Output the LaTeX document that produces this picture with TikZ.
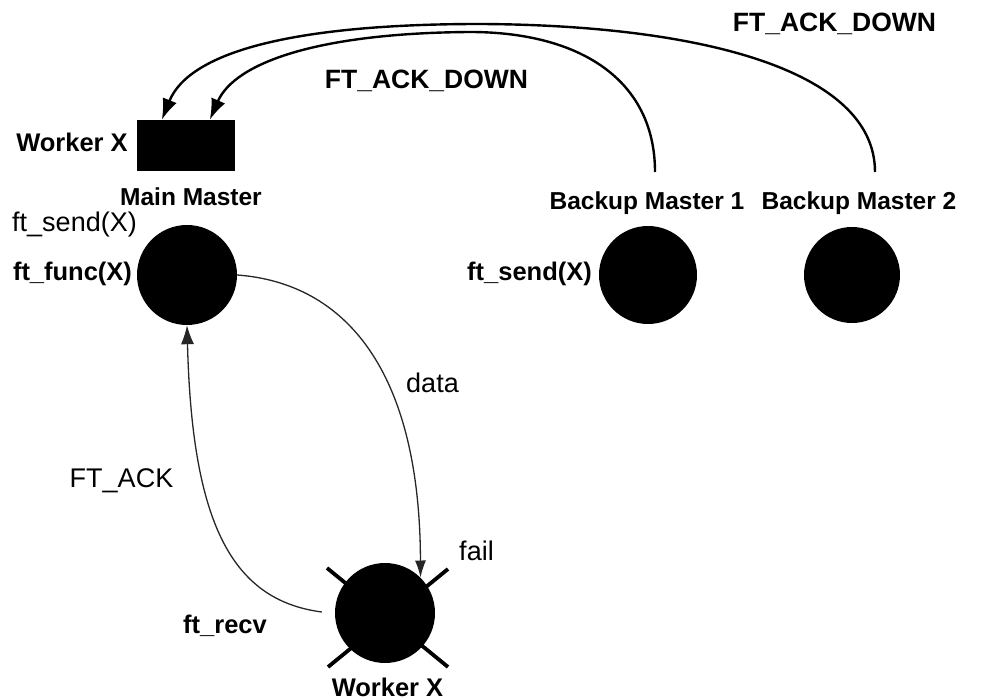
\documentclass[tikz,border=0pt]{standalone}
\usepackage{fontspec}
\setmainfont{Liberation Sans}
\usetikzlibrary{arrows.meta,calc}
\begin{document}
\begin{tikzpicture}[x=1pt,y=-1pt,
  blob/.style={circle,fill=black,draw=none,inner sep=0pt},
  lblb/.style={anchor=base,inner sep=0pt,font=\fontsize{25.5}{30}\selectfont\bfseries},
  lblm/.style={anchor=base,inner sep=0pt,font=\fontsize{24.5}{30}\selectfont\bfseries},
  lbld/.style={anchor=base,inner sep=0pt,font=\fontsize{26.5}{30}\selectfont\bfseries},
  lblr/.style={anchor=base,inner sep=0pt,font=\fontsize{27}{30}\selectfont},
  bigarrow/.style={line width=2.4pt,-{Latex[length=21pt,width=15pt]}},
  thinarrow/.style={line width=1.3pt,black!85}
]
\useasboundingbox (0,0) rectangle (983,700);

% nodes
\node[fill=black,minimum width=98pt,minimum height=51pt,inner sep=0pt] (box) at (186,145.5) {};
\coordinate (boxA) at ($(box.north west)+(25,0)$);
\coordinate (boxB) at ($(box.north west)+(73,0)$);
\node[blob,minimum size=100pt] (main) at (187,275) {};
\node[blob,minimum size=98pt] (bm1) at (648,275) {};
\node[blob,minimum size=96pt] (bm2) at (852,275) {};

% failed worker with cross
\draw[line width=3.8pt] (327,568) -- (448,667);
\draw[line width=3.8pt] (448,569) -- (328,667);
\node[blob,minimum size=100pt] (wx) at (385,613) {};

% labels
\node[lblb] (lwtop) at (72,152) {Worker X};
\node[lblm] (lmain) at (191,206) {Main Master};
\node[lblr] (lsend) at (74.5,232) {ft\_send(X)};
\node[lblb] (lfunc) at (72.5,281) {ft\_func(X)};
\node[lblm] (lbm1) at (647,210) {Backup Master 1};
\node[lblm] (lbm2) at (859,210) {Backup Master 2};
\node[lblb] (lsend2) at (529.5,281) {ft\_send(X)};
\node[lbld] (ldown1) at (426.5,89) {FT\_ACK\_DOWN};
\node[lbld] (ldown2) at (834.5,32) {FT\_ACK\_DOWN};
\node[lblr] (ldata) at (432.5,393) {data};
\node[lblr] (lack) at (121.5,488) {FT\_ACK};
\node[lblr] (lfail) at (476.5,560) {fail};
\node[lblb] (lrecv) at (225,633) {ft\_recv};
\node[lblb] (lwbot) at (387.5,696) {Worker X};

% top arrows
\coordinate (s2) at (875,172);
\coordinate (s1) at (655,172);
\draw[bigarrow] (s2) .. controls (875,70) and (700,25) .. (480,24)
  .. controls (300,24) and (190,50) .. (boxA);
\draw[bigarrow] (s1) .. controls (655,80) and (580,32) .. (470,32)
  .. controls (320,33) and (235,62) .. (boxB);

% lower arrows
\draw[thinarrow,-{Latex[length=17pt,width=11pt]}] (main.east) .. controls (345,283) and (420,370) .. (wx.north east);
\draw[thinarrow,-{Latex[length=19pt,width=13pt]}] ($(wx.west)+(-13,-1)$) .. controls (230,600) and (192,520) .. (main.south);
\end{tikzpicture}
\end{document}
